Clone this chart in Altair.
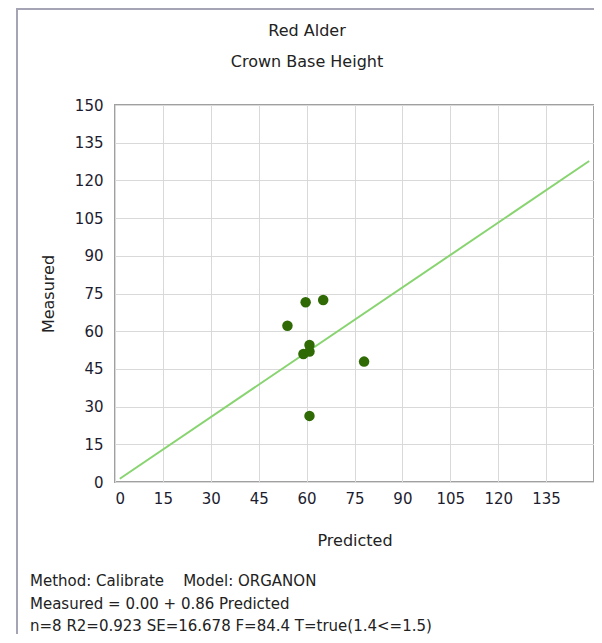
import altair as alt
import pandas as pd

predicted = [59.7, 65.2, 54.0, 60.9, 59.0, 60.9, 78.0, 60.9]
measured = [71.5, 72.4, 62.2, 54.5, 50.9, 51.9, 47.9, 26.3]
line_x = [1.5, 148.5]
slope = 0.86
line_y = [v * slope for v in line_x]
ticks = [0, 15, 30, 45, 60, 75, 90, 105, 120, 135]
yticks = [0, 15, 30, 45, 60, 75, 90, 105, 120, 135, 150]
title_lines = ["Red Alder", "Crown Base Height"]
footer_lines = [
    "Method: Calibrate \u00a0\u00a0\u00a0Model: ORGANON",
    "Measured = 0.00 + 0.86 Predicted",
    "n=8 R2=0.923 SE=16.678 F=84.4 T=true(1.4<=1.5)",
]

FONT = "DejaVu Sans"
pts = pd.DataFrame({"Predicted": predicted, "Measured": measured})
ln = pd.DataFrame({"Predicted": line_x, "Measured": line_y})

xs = alt.Scale(domain=[0, 150], nice=False, zero=False)
ys = alt.Scale(domain=[0, 150], nice=False, zero=False)

xaxis = alt.Axis(values=ticks, grid=True, ticks=False, labelPadding=9,
                 labelFontSize=15, labelFont=FONT, labelColor="#1c1c30",
                 labelOverlap=False,
                 title="Predicted", titleFont=FONT, titleFontSize=16,
                 titleFontWeight="normal", titleColor="#222", titlePadding=26,
                 domain=False, gridColor="#d9d9d9")
yaxis = alt.Axis(values=yticks, grid=True, ticks=False, labelPadding=12,
                 labelFontSize=15, labelFont=FONT, labelColor="#1c1c30",
                 labelOverlap=False,
                 title="Measured", titleFont=FONT, titleFontSize=16,
                 titleFontWeight="normal", titleColor="#222", titlePadding=18,
                 domain=False, gridColor="#d9d9d9")

line = alt.Chart(ln).mark_line(color="#88d470", strokeWidth=2).encode(
    x=alt.X("Predicted:Q", scale=xs, axis=xaxis),
    y=alt.Y("Measured:Q", scale=ys, axis=yaxis),
)
points = alt.Chart(pts).mark_circle(size=110, color="#2f6a05", opacity=1).encode(
    x=alt.X("Predicted:Q", scale=xs, axis=xaxis),
    y=alt.Y("Measured:Q", scale=ys, axis=yaxis),
)

one = pd.DataFrame({"a": [0]})

def text_line(s, x, y, align, size):
    return alt.Chart(one).mark_text(text=s, font=FONT, fontSize=size, color="#222",
                                    align=align, baseline="middle").encode(
        x=alt.value(x), y=alt.value(y))

texts = [
    text_line(title_lines[0], 192, -74, "center", 16),
    text_line(title_lines[1], 192, -43, "center", 16),
    text_line(footer_lines[0], -85, 476, "left", 15),
    text_line(footer_lines[1], -85, 499, "left", 15),
    text_line(footer_lines[2], -85, 521, "left", 15),
]

frame_top = alt.Chart(one).mark_rule(color="#a4a4b4", strokeWidth=2).encode(
    x=alt.value(-99), x2=alt.value(487), y=alt.value(-96))
frame_left = alt.Chart(one).mark_rule(color="#a4a4b4", strokeWidth=2).encode(
    x=alt.value(-98), y=alt.value(-96), y2=alt.value(545))

chart = alt.layer(line, points, *texts, frame_top, frame_left).properties(
    width=479, height=377,
    autosize=alt.AutoSizeParams(type="none"),
    padding={"left": 107, "top": 97, "right": 0, "bottom": 152},
    background="white",
).configure_view(stroke="#a0a0a0", strokeWidth=2)

chart.save("out.html", embed_options={"renderer": "svg", "actions": False})
